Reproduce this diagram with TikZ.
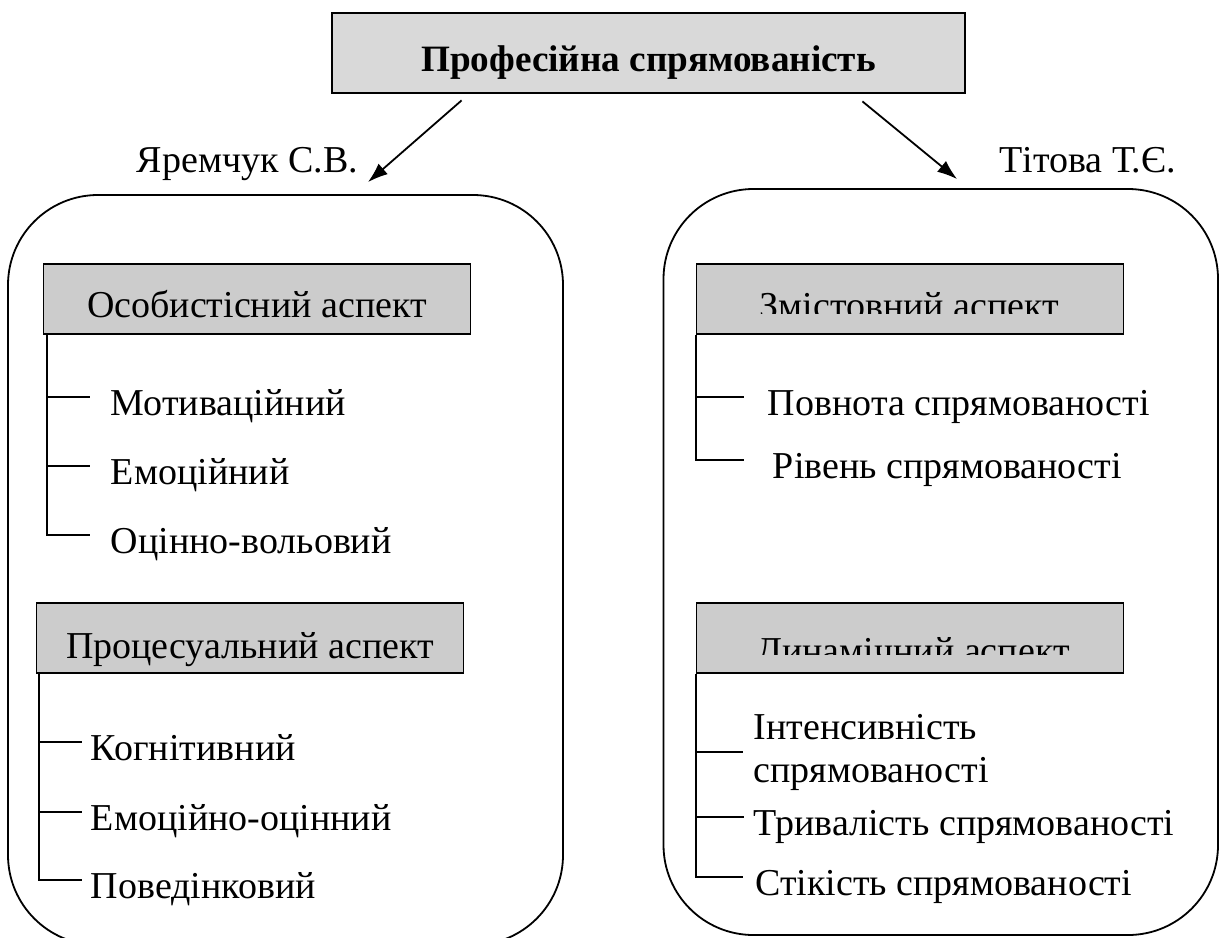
\documentclass[tikz,border=0pt]{standalone}
\usepackage{fontspec}
\setmainfont{Liberation Serif}
\usetikzlibrary{%
  arrows.meta,%
  calc%
}
\tikzset{>={Latex[length=10pt,width=7pt]}}
\tikzset{
  txt/.style={font=\fontsize{19}{21.5}\selectfont,inner sep=0pt},
  hdr/.style={txt,draw,fill=black!20,minimum width=213.5pt,minimum height=35pt},
  grp/.style={draw,rounded corners=45pt},
  item/.style={txt,anchor=base west}
}

\begin{document}
\begin{tikzpicture}[x=0.5pt,y=-0.5pt,line width=0.9pt]
    \clip (0,0) rectangle (1219,937);
    \node[txt,draw,fill=black!15,line width=1.4pt,minimum width=316.5pt,minimum height=40pt,
      text height=29pt,text depth=11pt,font=\fontsize{18.6}{21.5}\selectfont\bfseries]
      (prof) at (648.5,53) {Професійна спрямованість};
    \node[grp,minimum width=277.5pt,minimum height=375pt] (lgrp) at (285.5,570) {};
    \node[grp,minimum width=277.25pt,minimum height=373pt] (rgrp) at (940.75,562) {};
    \node[txt,anchor=base] (yar) at (247.5,172) {Яремчук С.В.};
    \node[txt,anchor=base] (tit) at (1087.5,172) {Тітова Т.Є.};
    \draw[->] ([xshift=65.5pt,yshift=-3pt]prof.south west) -- ([xshift=41.25pt,yshift=6pt]lgrp.north);
    \draw[->] ([xshift=-52pt,yshift=-3.5pt]prof.south east) -- ([xshift=147.25pt,yshift=4.5pt]rgrp.north west);

    \node[hdr,text height=26.5pt,text depth=8.5pt] (osob) at (257,299) {Особистісний аспект};
    \node[hdr,text height=27.5pt,text depth=7.5pt] (proc) at (250,638) {Процесуальний аспект};
    \node[hdr] (zmist) at (910,299) {};
    \node[hdr] (dyn) at (910,638) {};
    \begin{scope}
      \clip (zmist.north west) rectangle ([yshift=10.5pt]zmist.south east);
      \node[txt,anchor=base] (zmistt) at (909.5,318) {Змістовний аспект};
    \end{scope}
    \begin{scope}
      \clip (dyn.north west) rectangle ([yshift=9.5pt]dyn.south east);
      \node[txt,anchor=base] (dynt) at (913,663) {Динамічний аспект};
    \end{scope}

    \node[item] (mot) at (110,415) {Мотиваційний};
    \node[item] (emo) at (110,484) {Емоційний};
    \node[item] (ots) at (110,553) {Оцінно-вольовий};
    \node[item] (kog) at (90,760) {Когнітивний};
    \node[item] (emots) at (90,830) {Емоційно-оцінний};
    \node[item] (pov) at (90,898) {Поведінковий};
    \node[item] (povn) at (767,415) {Повнота спрямованості};
    \node[item] (riv) at (772,478) {Рівень спрямованості};
    \node[txt,anchor=west,align=left] (int) at (752.7,752) {Інтенсивність\\спрямованості};
    \node[item] (tryv) at (752.7,835) {Тривалість спрямованості};
    \node[item] (stik) at (754.5,895) {Стікість спрямованості};

    \foreach \n/\d in {mot/-10pt,emo/-10pt,ots/-10pt,kog/-4pt,emots/-4pt,pov/-4pt,povn/-11.5pt,riv/-14pt,tryv/-4.5pt,stik/-6pt}
      \coordinate (\n-t) at ([xshift=\d,yshift=9pt]\n.base west);
    \coordinate (int-t) at ([xshift=-5pt]int.west);

    \coordinate (t1) at ([xshift=2.25pt]osob.south west);
    \draw (t1) |- (ots-t);
    \draw (t1 |- mot-t) -- (mot-t);
    \draw (t1 |- emo-t) -- (emo-t);

    \coordinate (t2) at ([xshift=1.75pt]proc.south west);
    \draw (t2) |- (pov-t);
    \draw (t2 |- kog-t) -- (kog-t);
    \draw (t2 |- emots-t) -- (emots-t);

    \coordinate (t3) at ([xshift=0.25pt]zmist.south west);
    \draw (t3) |- (riv-t);
    \draw (t3 |- povn-t) -- (povn-t);

    \coordinate (t4) at ([xshift=0.25pt]dyn.south west);
    \draw (t4) |- (stik-t);
    \draw (t4 |- int-t) -- (int-t);
    \draw (t4 |- tryv-t) -- (tryv-t);
\end{tikzpicture}
\end{document}
